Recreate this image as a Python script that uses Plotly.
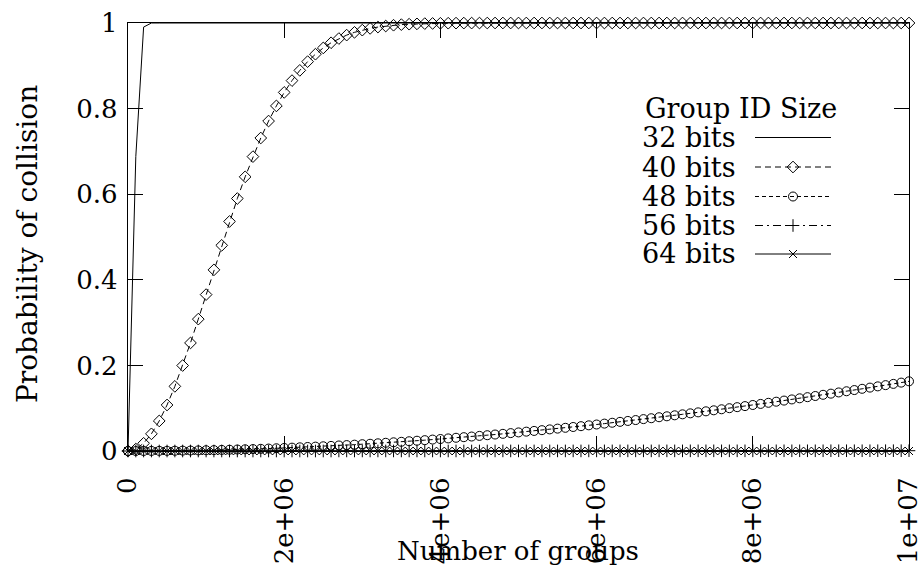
import plotly.graph_objects as go

# Number of groups (x axis)
groups = [
    0, 1e5, 2e5, 3e5, 4e5, 5e5, 6e5, 7e5, 8e5, 9e5,
    1.0e6, 1.1e6, 1.2e6, 1.3e6, 1.4e6, 1.5e6, 1.6e6, 1.7e6, 1.8e6, 1.9e6,
    2.0e6, 2.1e6, 2.2e6, 2.3e6, 2.4e6, 2.5e6, 2.6e6, 2.7e6, 2.8e6, 2.9e6,
    3.0e6, 3.1e6, 3.2e6, 3.3e6, 3.4e6, 3.5e6, 3.6e6, 3.7e6, 3.8e6, 3.9e6,
    4.0e6, 4.1e6, 4.2e6, 4.3e6, 4.4e6, 4.5e6, 4.6e6, 4.7e6, 4.8e6, 4.9e6,
    5.0e6, 5.1e6, 5.2e6, 5.3e6, 5.4e6, 5.5e6, 5.6e6, 5.7e6, 5.8e6, 5.9e6,
    6.0e6, 6.1e6, 6.2e6, 6.3e6, 6.4e6, 6.5e6, 6.6e6, 6.7e6, 6.8e6, 6.9e6,
    7.0e6, 7.1e6, 7.2e6, 7.3e6, 7.4e6, 7.5e6, 7.6e6, 7.7e6, 7.8e6, 7.9e6,
    8.0e6, 8.1e6, 8.2e6, 8.3e6, 8.4e6, 8.5e6, 8.6e6, 8.7e6, 8.8e6, 8.9e6,
    9.0e6, 9.1e6, 9.2e6, 9.3e6, 9.4e6, 9.5e6, 9.6e6, 9.7e6, 9.8e6, 9.9e6,
    1.0e7,
]

# Probability of collision per group ID size
p32 = [
    0.0, 0.6878, 0.9905, 1.0, 1.0, 1.0, 1.0, 1.0, 1.0, 1.0,
    1.0, 1.0, 1.0, 1.0, 1.0, 1.0, 1.0, 1.0, 1.0, 1.0,
    1.0, 1.0, 1.0, 1.0, 1.0, 1.0, 1.0, 1.0, 1.0, 1.0,
    1.0, 1.0, 1.0, 1.0, 1.0, 1.0, 1.0, 1.0, 1.0, 1.0,
    1.0, 1.0, 1.0, 1.0, 1.0, 1.0, 1.0, 1.0, 1.0, 1.0,
    1.0, 1.0, 1.0, 1.0, 1.0, 1.0, 1.0, 1.0, 1.0, 1.0,
    1.0, 1.0, 1.0, 1.0, 1.0, 1.0, 1.0, 1.0, 1.0, 1.0,
    1.0, 1.0, 1.0, 1.0, 1.0, 1.0, 1.0, 1.0, 1.0, 1.0,
    1.0, 1.0, 1.0, 1.0, 1.0, 1.0, 1.0, 1.0, 1.0, 1.0,
    1.0, 1.0, 1.0, 1.0, 1.0, 1.0, 1.0, 1.0, 1.0, 1.0,
    1.0,
]
p40 = [
    0.0, 0.0045, 0.0180, 0.0401, 0.0702, 0.1075, 0.1510, 0.1997, 0.2525, 0.3081,
    0.3654, 0.4232, 0.4805, 0.5363, 0.5899, 0.6406, 0.6878, 0.7313, 0.7709, 0.8063,
    0.8378, 0.8654, 0.8893, 0.9098, 0.9271, 0.9417, 0.9538, 0.9637, 0.9717, 0.9782,
    0.9833, 0.9874, 0.9905, 0.9929, 0.9948, 0.9962, 0.9972, 0.9980, 0.9986, 0.9990,
    0.9993, 0.9995, 0.9997, 0.9998, 0.9998, 0.9999, 0.9999, 1.0, 1.0, 1.0,
    1.0, 1.0, 1.0, 1.0, 1.0, 1.0, 1.0, 1.0, 1.0, 1.0,
    1.0, 1.0, 1.0, 1.0, 1.0, 1.0, 1.0, 1.0, 1.0, 1.0,
    1.0, 1.0, 1.0, 1.0, 1.0, 1.0, 1.0, 1.0, 1.0, 1.0,
    1.0, 1.0, 1.0, 1.0, 1.0, 1.0, 1.0, 1.0, 1.0, 1.0,
    1.0, 1.0, 1.0, 1.0, 1.0, 1.0, 1.0, 1.0, 1.0, 1.0,
    1.0,
]
p48 = [
    0.0, 0.0000, 0.0001, 0.0002, 0.0003, 0.0004, 0.0006, 0.0009, 0.0011, 0.0014,
    0.0018, 0.0021, 0.0026, 0.0030, 0.0035, 0.0040, 0.0045, 0.0051, 0.0057, 0.0064,
    0.0071, 0.0078, 0.0086, 0.0094, 0.0102, 0.0110, 0.0119, 0.0129, 0.0138, 0.0148,
    0.0159, 0.0169, 0.0180, 0.0192, 0.0203, 0.0215, 0.0228, 0.0240, 0.0253, 0.0267,
    0.0280, 0.0294, 0.0309, 0.0323, 0.0338, 0.0353, 0.0369, 0.0385, 0.0401, 0.0418,
    0.0434, 0.0452, 0.0469, 0.0487, 0.0505, 0.0523, 0.0542, 0.0561, 0.0580, 0.0600,
    0.0619, 0.0640, 0.0660, 0.0681, 0.0702, 0.0723, 0.0745, 0.0766, 0.0789, 0.0811,
    0.0834, 0.0857, 0.0880, 0.0903, 0.0927, 0.0951, 0.0975, 0.1000, 0.1024, 0.1049,
    0.1075, 0.1100, 0.1126, 0.1152, 0.1178, 0.1205, 0.1231, 0.1258, 0.1285, 0.1313,
    0.1340, 0.1368, 0.1396, 0.1424, 0.1453, 0.1481, 0.1510, 0.1539, 0.1568, 0.1598,
    0.1628,
]
p56 = [
    0.0, 0.0, 0.0, 0.0, 0.0, 0.0, 0.0, 0.0, 0.0, 0.0,
    0.0, 0.0, 0.0, 0.0, 0.0, 0.0, 0.0, 0.0, 0.0, 0.0,
    0.0, 0.0, 0.0, 0.0, 0.0, 0.0, 0.0, 0.0001, 0.0001, 0.0001,
    0.0001, 0.0001, 0.0001, 0.0001, 0.0001, 0.0001, 0.0001, 0.0001, 0.0001, 0.0001,
    0.0001, 0.0001, 0.0001, 0.0001, 0.0001, 0.0001, 0.0001, 0.0002, 0.0002, 0.0002,
    0.0002, 0.0002, 0.0002, 0.0002, 0.0002, 0.0002, 0.0002, 0.0002, 0.0002, 0.0002,
    0.0002, 0.0003, 0.0003, 0.0003, 0.0003, 0.0003, 0.0003, 0.0003, 0.0003, 0.0003,
    0.0003, 0.0003, 0.0004, 0.0004, 0.0004, 0.0004, 0.0004, 0.0004, 0.0004, 0.0004,
    0.0004, 0.0005, 0.0005, 0.0005, 0.0005, 0.0005, 0.0005, 0.0005, 0.0005, 0.0005,
    0.0006, 0.0006, 0.0006, 0.0006, 0.0006, 0.0006, 0.0006, 0.0007, 0.0007, 0.0007,
    0.0007,
]
p64 = [
    0.0, 0.0, 0.0, 0.0, 0.0, 0.0, 0.0, 0.0, 0.0, 0.0,
    0.0, 0.0, 0.0, 0.0, 0.0, 0.0, 0.0, 0.0, 0.0, 0.0,
    0.0, 0.0, 0.0, 0.0, 0.0, 0.0, 0.0, 0.0, 0.0, 0.0,
    0.0, 0.0, 0.0, 0.0, 0.0, 0.0, 0.0, 0.0, 0.0, 0.0,
    0.0, 0.0, 0.0, 1e-6, 1e-6, 1e-6, 1e-6, 1e-6, 1e-6, 1e-6,
    1e-6, 1e-6, 1e-6, 1e-6, 1e-6, 1e-6, 1e-6, 1e-6, 1e-6, 1e-6,
    1e-6, 1e-6, 1e-6, 1e-6, 1e-6, 1e-6, 1e-6, 1e-6, 1e-6, 1e-6,
    1e-6, 1e-6, 1e-6, 1e-6, 1e-6, 2e-6, 2e-6, 2e-6, 2e-6, 2e-6,
    2e-6, 2e-6, 2e-6, 2e-6, 2e-6, 2e-6, 2e-6, 2e-6, 2e-6, 2e-6,
    2e-6, 2e-6, 2e-6, 2e-6, 2e-6, 2e-6, 2e-6, 3e-6, 3e-6, 3e-6,
    3e-6,
]

series_names = ["32 bits", "40 bits", "48 bits", "56 bits", "64 bits"]
series_values = [p32, p40, p48, p56, p64]

x_tick_vals = [0, 2e6, 4e6, 6e6, 8e6, 1e7]
x_tick_text = ["0", "2e+06", "4e+06", "6e+06", "8e+06", "1e+07"]
y_tick_vals = [0, 0.2, 0.4, 0.6, 0.8, 1]
y_tick_text = ["0", "0.2", "0.4", "0.6", "0.8", "1"]

# ---- styling -------------------------------------------------------------
FONT = "DejaVu Serif"
W, H = 921, 572
PLOT_L, PLOT_R, PLOT_T, PLOT_B = 128, 909, 23, 451
TICK_SIZE, KEY_SIZE, XT_SIZE, YT_SIZE = 26, 27, 26, 28

styles = [
    dict(dash="solid", symbol=None, size=0),
    dict(dash="6px,4px", symbol="diamond-open", size=9),
    dict(dash="4px,3px", symbol="circle-open", size=9),
    dict(dash="8px,4px,2px,4px", symbol="cross-thin-open", size=9),
    dict(dash="solid", symbol="x-thin-open", size=8),
]


def px_x(px):
    return (px - PLOT_L) / (PLOT_R - PLOT_L)


def px_y(py):
    return (PLOT_B - py) / (PLOT_B - PLOT_T)


fig = go.Figure()

for name, vals, st in zip(series_names, series_values, styles):
    line = dict(color="black", width=1, dash=st["dash"])
    if st["symbol"] is None:
        fig.add_trace(go.Scatter(x=groups, y=vals, mode="lines", line=line,
                                 name=name, showlegend=False, cliponaxis=False))
    else:
        fig.add_trace(go.Scatter(
            x=groups, y=vals, mode="lines+markers", line=line, name=name,
            showlegend=False, cliponaxis=False,
            marker=dict(symbol=st["symbol"], size=st["size"], color="black",
                        line=dict(color="black", width=1)),
        ))

# ---- key drawn as text on the left, sample on the right -----------------
KEY_TEXT_RIGHT = 738
KEY_LINE_X0, KEY_LINE_X1 = 755, 831
KEY_MARK_X = 793
KEY_ROWS = [137.5, 167, 196.5, 225.5, 254]
KEY_TITLE_Y = 108

for name, st, ry in zip(series_names, styles, KEY_ROWS):
    fig.add_trace(go.Scatter(
        x=[KEY_LINE_X0, KEY_LINE_X1], y=[ry, ry], mode="lines",
        line=dict(color="black", width=1, dash=st["dash"]),
        xaxis="x2", yaxis="y2", showlegend=False, hoverinfo="skip"))
    if st["symbol"] is not None:
        fig.add_trace(go.Scatter(
            x=[KEY_MARK_X], y=[ry], mode="markers",
            marker=dict(symbol=st["symbol"], size=st["size"], color="black",
                        line=dict(color="black", width=1)),
            xaxis="x2", yaxis="y2", showlegend=False, hoverinfo="skip"))
    fig.add_annotation(text=name, xref="paper", yref="paper",
                       x=px_x(KEY_TEXT_RIGHT), y=px_y(ry), xanchor="right",
                       yanchor="middle", showarrow=False,
                       font=dict(family=FONT, size=KEY_SIZE, color="black"))

fig.add_annotation(text="Group ID Size", xref="paper", yref="paper",
                   x=px_x(740.5), y=px_y(KEY_TITLE_Y), xanchor="center",
                   yanchor="middle", showarrow=False,
                   font=dict(family=FONT, size=KEY_SIZE, color="black"))

# axis titles
fig.add_annotation(text="Number of groups", xref="paper", yref="paper",
                   x=px_x(517.5), y=px_y(551), xanchor="center",
                   yanchor="middle", showarrow=False,
                   font=dict(family=FONT, size=XT_SIZE, color="black"))
fig.add_annotation(text="Probability of collision", xref="paper", yref="paper",
                   x=px_x(27), y=px_y(244), xanchor="center",
                   yanchor="middle", showarrow=False, textangle=-90,
                   font=dict(family=FONT, size=YT_SIZE, color="black"))

axis_common = dict(
    showgrid=False, zeroline=False, showline=True, linecolor="black",
    linewidth=1.3, mirror="ticks", ticks="inside", ticklen=15, tickwidth=1,
    tickcolor="black", automargin=False, ticklabeloverflow="allow",
    tickfont=dict(family=FONT, size=TICK_SIZE, color="black"),
)

fig.update_layout(
    width=W, height=H,
    margin=dict(l=PLOT_L, r=W - PLOT_R, t=PLOT_T, b=H - PLOT_B, pad=0),
    paper_bgcolor="white", plot_bgcolor="white",
    showlegend=False,
    xaxis=dict(range=[0, 1e7], tickvals=x_tick_vals, ticktext=x_tick_text,
               tickangle=-90, ticklabelstandoff=15, **axis_common),
    yaxis=dict(range=[0, 1], tickvals=y_tick_vals, ticktext=y_tick_text,
               ticklabelstandoff=4, **axis_common),
    xaxis2=dict(overlaying="x", range=[PLOT_L, PLOT_R], visible=False,
                fixedrange=True),
    yaxis2=dict(overlaying="y", range=[PLOT_B, PLOT_T], visible=False,
                fixedrange=True),
)

fig.write_html("out.html")
